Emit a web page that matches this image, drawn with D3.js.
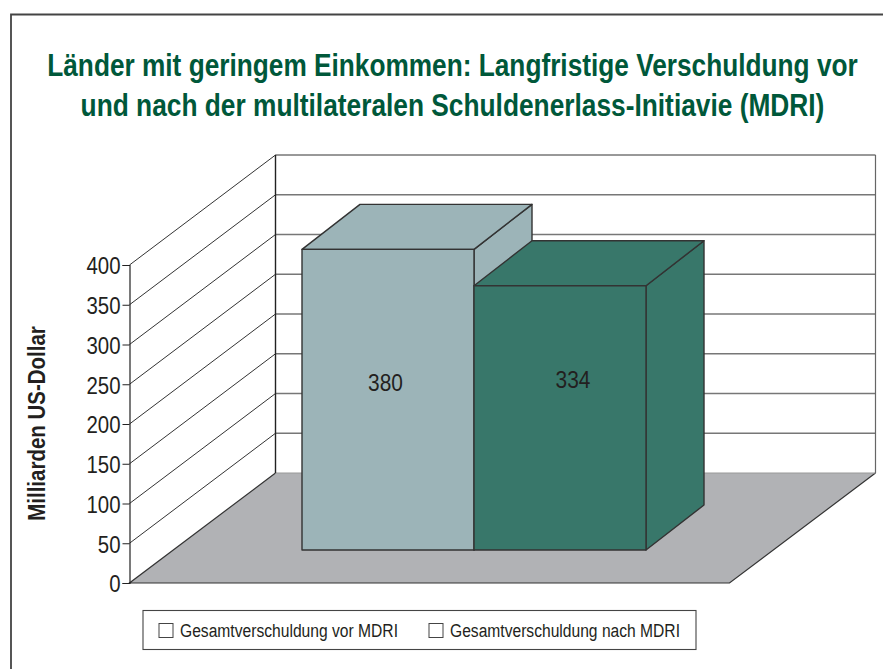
<!DOCTYPE html>
<html>
<head>
<meta charset="utf-8">
<script src="https://cdn.jsdelivr.net/npm/d3@7"></script>
<style>
  html, body { margin: 0; padding: 0; background: #fff; }
  svg { display: block; }
  text { font-family: "Liberation Sans", Arial, sans-serif; fill: #231f20; }
  .chart-title { font-size: 32px; font-weight: bold; fill: #00583a; }
  .axis-label { font-size: 23px; font-weight: bold; }
  .tick-label { font-size: 24px; }
  .bar-label { font-size: 24px; }
  .legend-label { font-size: 18px; }
</style>
</head>
<body>
<script>
// Data
const categories = ["Gesamtverschuldung vor MDRI", "Gesamtverschuldung nach MDRI"];
const values = [380, 334];
const tickValues = [0, 50, 100, 150, 200, 250, 300, 350, 400];
const titleLines = [
  "Länder mit geringem Einkommen: Langfristige Verschuldung vor",
  "und nach der multilateralen Schuldenerlass-Initiavie (MDRI)"
];
const yLabel = "Milliarden US-Dollar";

// Space and layout
const w = 883;
const h = 669;
const axisX = 129.5;       // front left edge of the chart box
const floorW = 600;        // width of floor and back wall
const depthX = 146;        // how far the back wall is shifted
const depthY = -110;
const barDepthX = 58;      // depth of one bar
const barDepthY = -45;
const barBase = 550;       // front bottom of the bars

const colors = ["#9cb4b8", "#38776a"];
const lineCol = "#333333";

// Scales
const yScale = d3.scaleLinear().domain([0, 400]).range([583, 265]);
const xBar = d3.scaleBand().domain(categories).range([302, 646]);
const barHeight = d3.scaleLinear().domain([0, 400]).range([0, 316.5]);

const pathOf = pts => d3.line()(pts) + "Z";

// The original type is a condensed face, no such font here, so squeeze the text to a width
const squeeze = (sel, widthOf) => sel
  .attr("textLength", widthOf)
  .attr("lengthAdjust", "spacingAndGlyphs");
const squeezeBy = (sel, factor) => squeeze(sel, function() {
  return this.getComputedTextLength() * factor;
});

const svg = d3.select("body").append("svg")
  .attr("width", w)
  .attr("height", h);

// Outer frame, runs off the picture at right and bottom
svg.append("path")
  .attr("d", d3.line()([[11, h], [11, 14.5], [w, 14.5]]))
  .attr("fill", "none")
  .attr("stroke", "#444")
  .attr("stroke-width", 1.8);

// Title, scaled with a transform because its natural width is wider than the page
const titleWidths = [811, 744];
svg.selectAll(".chart-title")
  .data(titleLines)
  .join("text")
  .attr("class", "chart-title")
  .attr("text-anchor", "middle")
  .text(d => d)
  .attr("transform", function(d, i) {
    const k = titleWidths[i] / this.getComputedTextLength();
    return "translate(452.5," + (76 + i * 39.5) + ") scale(" + k + ",1)";
  });

// Floor
const y0 = yScale(0);
svg.append("path")
  .attr("d", pathOf([
    [axisX, y0],
    [axisX + depthX, y0 + depthY],
    [axisX + depthX + floorW, y0 + depthY],
    [axisX + floorW, y0]
  ]))
  .attr("fill", "#b1b2b5");
svg.append("path")
  .attr("d", d3.line()([
    [axisX + depthX + floorW, y0 + depthY],
    [axisX + floorW, y0],
    [axisX, y0],
    [axisX + depthX, y0 + depthY]
  ]))
  .attr("fill", "none")
  .attr("stroke", lineCol)
  .attr("stroke-width", 1.2);

// Gridlines on the left wall and the back wall
const grid = svg.append("g");
tickValues.filter(d => d > 0).forEach(d => {
  grid.append("line")
    .attr("x1", axisX).attr("y1", yScale(d))
    .attr("x2", axisX + depthX).attr("y2", yScale(d) + depthY)
    .attr("stroke", lineCol).attr("stroke-width", 1);
  grid.append("line")
    .attr("x1", axisX + depthX).attr("y1", yScale(d) + depthY)
    .attr("x2", axisX + depthX + floorW).attr("y2", yScale(d) + depthY)
    .attr("stroke", d === 400 ? lineCol : "#777").attr("stroke-width", d === 400 ? 1 : 1.3);
});
grid.append("line")
  .attr("x1", axisX + depthX).attr("y1", yScale(0) + depthY)
  .attr("x2", axisX + depthX + floorW).attr("y2", yScale(0) + depthY)
  .attr("stroke", "#999").attr("stroke-width", 1);

// Back wall verticals
[axisX + depthX, axisX + depthX + floorW].forEach((x, i) => {
  grid.append("line")
    .attr("x1", x).attr("y1", yScale(400) + depthY)
    .attr("x2", x).attr("y2", yScale(0) + depthY)
    .attr("stroke", i === 0 ? "#222" : "#666")
    .attr("stroke-width", i === 0 ? 1.4 : 1.2);
});

// Left axis
const leftAxis = d3.axisLeft(yScale)
  .tickValues(tickValues)
  .tickSize(7)
  .tickPadding(2)
  .tickFormat(d3.format("d"));
const axisG = svg.append("g")
  .attr("transform", "translate(" + axisX + ",0)")
  .call(leftAxis);
axisG.attr("font-size", null).attr("font-family", null);
axisG.select(".domain").attr("stroke", "#222").attr("stroke-width", 1.2);
axisG.selectAll(".tick line").attr("stroke", "#222");
axisG.selectAll(".tick text")
  .attr("class", "tick-label")
  .attr("dy", "0.37em")
  .call(squeezeBy, 0.85);

// Y-axis label
svg.append("text")
  .attr("class", "axis-label")
  .attr("transform", "rotate(-90)")
  .attr("x", -423.5)
  .attr("y", 45)
  .attr("text-anchor", "middle")
  .text(yLabel)
  .call(squeezeBy, 0.89);

// Bars, back one first so that the second overlaps its side
categories.forEach((c, i) => {
  const x0 = xBar(c);
  const x1 = x0 + xBar.bandwidth();
  const top = barBase - barHeight(values[i]);
  const g = svg.append("g")
    .attr("fill", colors[i])
    .attr("stroke", lineCol)
    .attr("stroke-width", 1.4)
    .attr("stroke-linejoin", "round");
  // Right side
  g.append("path").attr("d", pathOf([
    [x1, top], [x1 + barDepthX, top + barDepthY],
    [x1 + barDepthX, barBase + barDepthY], [x1, barBase]
  ]));
  // Top
  g.append("path").attr("d", pathOf([
    [x0, top], [x0 + barDepthX, top + barDepthY],
    [x1 + barDepthX, top + barDepthY], [x1, top]
  ]));
  // Front
  g.append("rect")
    .attr("x", x0).attr("y", top)
    .attr("width", x1 - x0).attr("height", barBase - top);
});

// Value labels
const labelY = [391, 388];
svg.selectAll(".bar-label")
  .data(values)
  .join("text")
  .attr("class", "bar-label")
  .attr("x", (d, i) => xBar(categories[i]) + xBar.bandwidth() / 2 - (i === 0 ? 2.5 : -13))
  .attr("y", (d, i) => labelY[i])
  .attr("text-anchor", "middle")
  .text(d => d)
  .call(squeezeBy, 0.87);

// Legend
const legend = svg.append("g");
legend.append("rect")
  .attr("x", 143).attr("y", 610.5)
  .attr("width", 553).attr("height", 39)
  .attr("fill", "#fff").attr("stroke", "#444").attr("stroke-width", 1.1);
const legendX = [159, 429];
const legendWidths = [218, 230];
categories.forEach((c, i) => {
  legend.append("rect")
    .attr("x", legendX[i]).attr("y", 623.5)
    .attr("width", 14).attr("height", 14)
    .attr("fill", "#fff").attr("stroke", "#444").attr("stroke-width", 1);
  legend.append("text")
    .attr("class", "legend-label")
    .attr("x", legendX[i] + 21)
    .attr("y", 637)
    .text(c)
    .call(squeeze, legendWidths[i]);
});
</script>
</body>
</html>
